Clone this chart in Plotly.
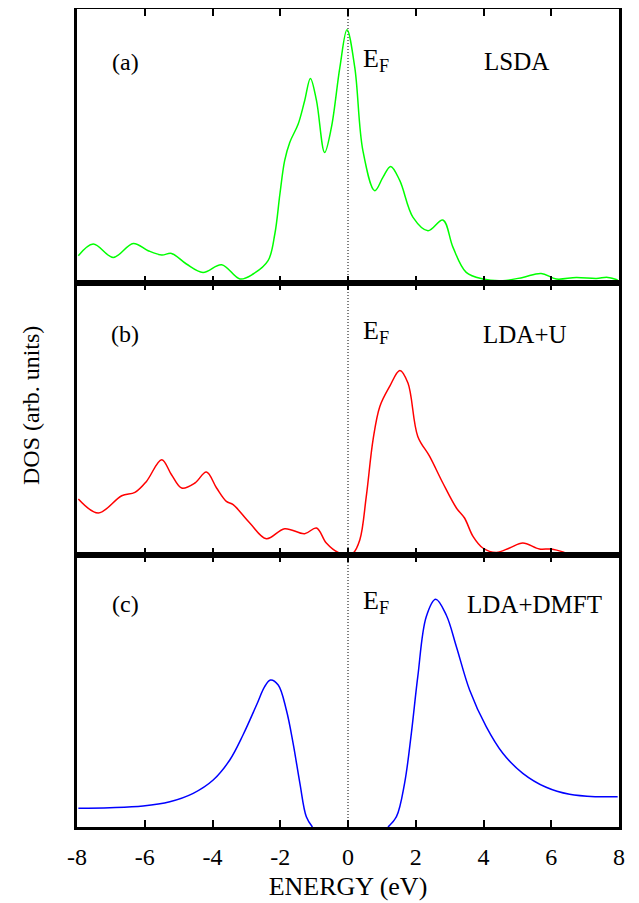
import plotly.graph_objects as go
from plotly.subplots import make_subplots

# ---------------- data ----------------
lsda_E = [-7.96, -7.52, -6.93, -6.34, -5.90, -5.50, -5.21, -4.77, -4.28, -3.73, -3.19, -2.80,
          -2.36, -2.16, -2.01, -1.87, -1.72, -1.47, -1.28, -1.11, -0.93, -0.69, -0.49, -0.24,
          -0.03, 0.20, 0.44, 0.79, 1.03, 1.26, 1.53, 1.92, 2.36, 2.80, 3.10, 3.49, 3.98, 4.57,
          5.16, 5.70, 6.15, 6.74, 7.33, 7.67, 7.96]
lsda_D = [27, 38.7, 25.3, 39.3, 32, 27.7, 29.3, 18.7, 10.3, 18, 3.7, 8.7,
          22, 48.7, 88.7, 122, 140.3, 158.7, 182, 204.3, 182, 130.3, 155.3, 215.3,
          253, 215.3, 132, 92, 105.3, 116.3, 102, 65.3, 52, 62.7, 35.3, 10.3, 3.7, 2,
          5.3, 9.3, 3.7, 5.3, 4.3, 5.3, 2.7]

ldau_E = [-7.96, -7.37, -6.68, -6.29, -5.95, -5.50, -5.21, -4.91, -4.52, -4.18, -3.88, -3.59,
          -3.39, -2.90, -2.41, -1.87, -1.28, -0.93, -0.64, -0.29, 0.0, 0.15, 0.35, 0.54, 0.74,
          0.94, 1.23, 1.53, 1.77, 2.06, 2.41, 2.80, 3.20, 3.44, 3.69, 3.98, 4.38, 4.77, 5.16,
          5.65, 6.00, 6.39]
ldau_D = [55.7, 41.7, 59, 62.3, 73.3, 95, 80, 66.7, 71.7, 82.7, 66.7, 53.3,
          50, 31.7, 16, 26, 21, 26.7, 11.7, 2.3, 1, 1.7, 15, 58.3, 115,
          148.3, 168.3, 184.3, 171.7, 118.3, 98.3, 71.7, 46.7, 36.7, 18.3, 6.7, 2.3, 6.7, 11.7,
          5.7, 5.7, 2.3]

dmft_E = [-7.96, -7.03, -6.05, -5.26, -4.57, -3.98, -3.49, -3.10, -2.70, -2.46, -2.29, -2.06,
          -1.82, -1.62, -1.42, -1.23, -1.05, None, 1.18, 1.43, 1.67, 1.87, 2.06, 2.31, 2.59,
          2.90, 3.20, 3.59, 4.08, 4.57, 5.16, 5.85, 6.54, 7.33, 7.96]
dmft_D = [18.7, 19.3, 21, 25.3, 33.7, 47, 67, 92, 122, 140.3, 147, 142,
          117, 83.7, 43.7, 10.3, 0, None, 0, 10.3, 43.7, 93.7, 150.3, 210.3, 227.7,
          212, 180.3, 137, 100.3, 73.7, 53.7, 39.7, 32.7, 30.3, 30.3]

x_ticks = [-8, -6, -4, -2, 0, 2, 4, 6, 8]
x_tick_text = ["-8", "-6", "-4", "-2", "0", "2", "4", "6", "8"]
panel_labels = ["(a)", "(b)", "(c)"]
method_labels = ["LSDA", "LDA+U", "LDA+DMFT"]

# ---------------- figure ----------------
# page body has an 8px margin; figure is sized so that the plot lands where the reference has it
OFF = 8
W, H = 639 - OFF, 903 - OFF
ML, MR, MT, MB = 77 - OFF, 20, 9 - OFF, 76
FONT = "Liberation Serif, Times New Roman, serif"

fig = make_subplots(rows=3, cols=1, shared_xaxes=True, vertical_spacing=0)

b1 = (827 - 282.7) / 818
b2 = (827 - 554.7) / 818

fig.add_trace(go.Scatter(x=lsda_E, y=lsda_D, mode="lines", line=dict(color="#00ff00", width=1.5, shape="spline"),
                         showlegend=False), row=1, col=1)
fig.add_trace(go.Scatter(x=ldau_E, y=ldau_D, mode="lines", line=dict(color="#ff0000", width=1.5, shape="spline"),
                         showlegend=False), row=2, col=1)
fig.add_trace(go.Scatter(x=dmft_E, y=dmft_D, mode="lines", line=dict(color="#0000ff", width=1.5, shape="spline"),
                         showlegend=False, connectgaps=False), row=3, col=1)

xcommon = dict(range=[-8, 8], tickvals=x_ticks, ticktext=x_tick_text, ticks="inside", ticklen=7, tickwidth=2,
               tickcolor="black", showline=True, linewidth=3, linecolor="black", mirror="ticks",
               showgrid=False, zeroline=False,
               tickfont=dict(family=FONT, size=24, color="black"))
ycommon = dict(showline=True, linewidth=3, linecolor="black", mirror=True, showgrid=False,
               zeroline=False, showticklabels=False, ticks="")

fig.update_layout(
    xaxis=dict(**xcommon, showticklabels=False),
    xaxis2=dict(**xcommon, showticklabels=False),
    xaxis3=dict(**xcommon, showticklabels=True, ticklabelstandoff=6,
                title=dict(text="ENERGY (eV)", font=dict(family=FONT, size=26, color="black"), standoff=9)),
    yaxis=dict(**ycommon, domain=[b1, 1], range=[0, 273.7]),
    yaxis2=dict(**ycommon, domain=[b2, b1], range=[0, 272]),
    yaxis3=dict(**ycommon, domain=[0, b2], range=[0, 272.3]),
    width=W, height=H,
    margin=dict(l=ML, r=MR, t=MT, b=MB, autoexpand=False),
    plot_bgcolor="white", paper_bgcolor="white",
    font=dict(family=FONT, size=24, color="black"),
)

# Fermi level dotted line across all panels
fig.add_shape(type="line", xref="x3", yref="paper", x0=0, x1=0, y0=0, y1=1,
              line=dict(color="black", width=1, dash="1px,2px"), layer="below")
# thick panel boundaries
for yb in (b1, b2):
    fig.add_shape(type="line", xref="paper", yref="paper", x0=0, x1=1, y0=yb, y1=yb,
                  line=dict(color="black", width=4))


def px(xp):
    return (xp - 77) / 542


def py(yp):
    return (827 - yp) / 818


label_y = [62, 334, 604]
ef_y = [60, 332, 602]
for i in range(3):
    fig.add_annotation(text=panel_labels[i], x=px(125), y=py(label_y[i]), xref="paper", yref="paper",
                       showarrow=False, xanchor="center", yanchor="middle",
                       font=dict(family=FONT, size=24, color="black"))
    fig.add_annotation(text="E<sub>F</sub>", x=px(361), y=py(ef_y[i]), xref="paper", yref="paper",
                       showarrow=False, xanchor="left", yanchor="middle",
                       font=dict(family=FONT, size=26, color="black"))
method_x = [516.5, 525, 534]
for i in range(3):
    fig.add_annotation(text=method_labels[i], x=px(method_x[i]), y=py(label_y[i]), xref="paper", yref="paper",
                       showarrow=False, xanchor="center", yanchor="middle",
                       font=dict(family=FONT, size=25, color="black"))

# y-axis title (shared)
fig.add_annotation(text="DOS (arb. units)", x=px(31), y=py(406), xref="paper", yref="paper",
                   showarrow=False, textangle=-90, xanchor="center", yanchor="middle",
                   font=dict(family=FONT, size=24, color="black"))

fig.write_html("out.html")
